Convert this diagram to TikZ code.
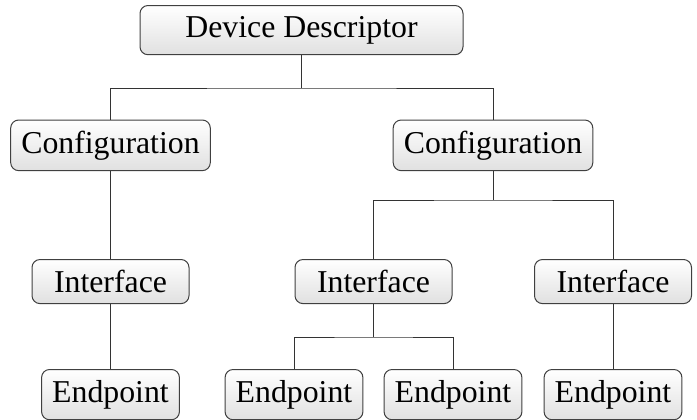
\documentclass[tikz,border=0pt]{standalone}
\usepackage{fontspec}
\setmainfont{Liberation Serif}
\begin{document}
\begin{tikzpicture}[x=0.5pt,y=-0.5pt,
  box/.style={draw=black!75, line width=0.5pt, rounded corners=4pt, top color=white, bottom color=black!12, inner xsep=5.3pt, inner ysep=5.35pt, font=\fontsize{15.9}{19}\selectfont, anchor=north},
  conn/.style={draw=black!80, line width=0.5pt}]
\useasboundingbox (0,0) rectangle (697,419);
\node[box, minimum width=161.5pt] (dev) at (301.5,5) {Device Descriptor};
\node[box] (c1) at (110.5,119.5) {Configuration};
\node[box] (c2) at (493,119.5) {Configuration};
\node[box, minimum width=78.5pt] (i1) at (110.5,259) {Interface};
\node[box, minimum width=78.5pt] (i2) at (373.5,259) {Interface};
\node[box, minimum width=78.5pt] (i3) at (613,259) {Interface};
\node[box, minimum width=68.5pt] (e1) at (110.5,369) {Endpoint};
\node[box, minimum width=68.5pt] (e2) at (294,369) {Endpoint};
\node[box, minimum width=68.5pt] (e3) at (453,369) {Endpoint};
\node[box, minimum width=68.5pt] (e4) at (613,369) {Endpoint};
\coordinate (j1) at (301.5,88);
\coordinate (j2) at (493,200);
\coordinate (j3) at (373.5,337);
\draw[conn] (dev.south) -- (j1);
\draw[conn] (c1.north) |- (j1) -| (c2.north);
\draw[conn] (c2.south) -- (j2);
\draw[conn] (i2.north) |- (j2) -| (i3.north);
\draw[conn] (c1.south) -- (i1.north);
\draw[conn] (i1.south) -- (e1.north);
\draw[conn] (i3.south) -- (e4.north);
\draw[conn] (i2.south) -- (j3);
\draw[conn] (e2.north) |- (j3) -| (e3.north);
\end{tikzpicture}
\end{document}
